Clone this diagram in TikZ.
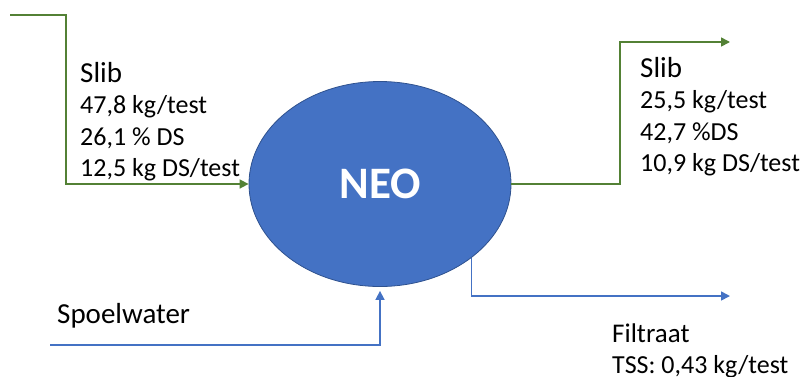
\documentclass[tikz,border=0pt]{standalone}
\usepackage{fontspec}
\setmainfont{Carlito}
\usepackage{xcolor}
\usetikzlibrary{positioning, shapes.geometric, arrows.meta}

\definecolor{slibgreen}{HTML}{538135}
\definecolor{waterblue}{HTML}{4472C4}
\definecolor{neoedge}{HTML}{2F528F}

\tikzset{
    flow/.style={line width=1.6pt, -{Triangle[length=9pt,width=9pt]}},
    slibflow/.style={flow, slibgreen},
    waterflow/.style={flow, waterblue},
    label/.style={inner sep=0pt, anchor=base west, font=\fontsize{26}{31}\selectfont},
    title/.style={label, font=\fontsize{29}{34}\selectfont}
}

\begin{document}
\begin{tikzpicture}[x=1pt, y=-1pt]
    \useasboundingbox (0,0) rectangle (805,376);
    \node[ellipse, fill=waterblue, draw=neoedge, line width=0.8pt,
          minimum width=262pt, minimum height=205pt, inner sep=0pt,
          text=white, font=\fontsize{45}{50}\selectfont\bfseries] (neo) at (380,184) {NEO};

    % ingaand slib
    \coordinate (slibstart) at (10,15);
    \draw[slibflow] (slibstart) -- (66,15) |- (neo.west);
    \node[title] (slibin) at (80,82) {Slib};
    \foreach \txt [count=\i] in {{47,8 kg/test},{26,1 \% DS},{12,5 kg DS/test}}
    {
    \node[label] (slibin\i) at (80,{82+31.5*\i}) {\txt};
    }

    % uitgaand slib
    \coordinate (slibend) at (730,42);
    \draw[slibflow] (neo.east) -| (620,42) -- (slibend);
    \node[title] (slibout) at (640,77) {Slib};
    \foreach \txt [count=\i] in {{25,5 kg/test},{42,7 \%DS},{10,9 kg DS/test}}
    {
    \node[label] (slibout\i) at (640,{77+31.5*\i}) {\txt};
    }

    % spoelwater
    \coordinate (waterstart) at (50,345);
    \draw[waterflow] (waterstart) -| ([yshift=-4pt]neo.south);
    \node[title] (spoel) at (57,323) {Spoelwater};

    % filtraat
    \coordinate (filtend) at (730,296);
    \draw[waterflow] (neo.-39) |- (filtend);
    \node[label, font=\fontsize{27}{31}\selectfont] (filt) at (612,342) {Filtraat};
    \node[label] (tss) at (612,373) {TSS: 0,43 kg/test};
\end{tikzpicture}
\end{document}
